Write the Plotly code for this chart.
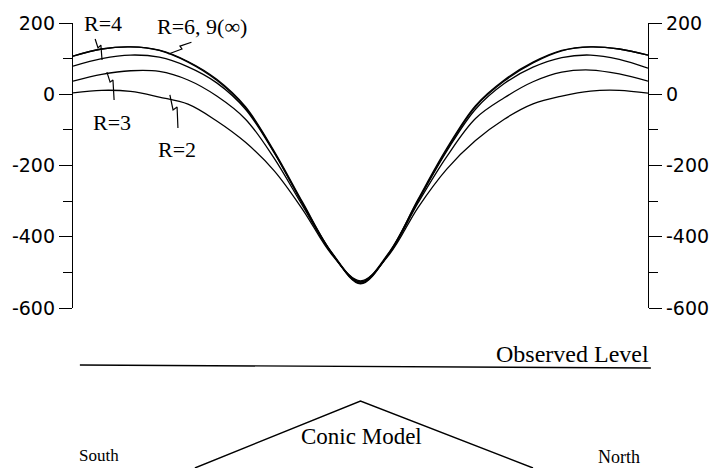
import plotly.graph_objects as go

# Distance along the profile (South -> North), arbitrary units
dist = [-100, -90, -80, -70, -60, -50, -40, -30, -20, -10, 0,
        10, 20, 30, 40, 50, 60, 70, 80, 90, 100]

# Computed level for each ratio R
r9 = [107, 127, 133, 124, 92, 42, -35, -160, -305, -445, -532,
      -445, -295, -152, -32, 40, 90, 123, 133, 127, 110]
r6 = [107, 127, 133, 123, 90, 39, -38, -163, -308, -444, -527,
      -443, -298, -156, -35, 37, 88, 122, 133, 127, 110]
r4 = [79, 100, 110, 104, 77, 32, -42, -165, -310, -446, -530,
      -446, -300, -160, -42, 30, 76, 103, 110, 98, 73]
r3 = [37, 56, 66, 64, 40, -5, -70, -180, -315, -447, -527,
      -447, -305, -175, -68, -10, 35, 62, 68, 57, 37]
r2 = [4, 11, 8, -8, -28, -75, -135, -215, -325, -450, -524,
      -450, -318, -210, -130, -70, -27, -5, 9, 11, 3]

major_ticks = [-600, -400, -200, 0, 200]
major_text = ["-600", "-400", "-200", "0", "200"]
minor_ticks = [-500, -300, -100, 100]

# Curve labels: text, x, y
labels = [
    ("R=4", -89.7, 200),
    ("R=6, 9(\u221e)", -55.1, 191),
    ("R=3", -86.4, -78),
    ("R=2", -63.7, -156),
]

# Zig-zag leaders from labels to curves
leaders = [
    ([-92.3, -91.3, -90.3, -89.9], [155, 130, 138, 96]),
    ([-88.2, -87.1, -86.1, -85.7], [62, 34, 40, -16]),
    ([-66.3, -65.2, -63.8, -63.5], [-2, -44, -36, -95]),
    ([-66.8, -62.1, -62.8, -58.8], [113, 127, 135, 146]),
]

# Schematic below: observed level and conic model profile
obs_x = [-97.6, 101.0]
obs_z = [103, 100]
cone_x = [-57.6, 0, 60.0]
cone_z = [0, 67, 0]

W, H = 713, 468
x_dom = [73 / W, 648 / W]
y_dom = [1 - 308 / H, 1 - 23 / H]
# lower panel spans the full width with the same horizontal scale
unit = (648 - 73) / 200.0
x2_range = [(0 - 360.5) / unit, (W - 360.5) / unit]

fig = go.Figure()
line_style = dict(color="black", width=1.3, shape="spline", smoothing=1.0)
for vals in (r2, r3, r4, r6):
    fig.add_trace(go.Scatter(x=dist, y=vals, mode="lines", line=line_style,
                             hoverinfo="skip"))
fig.add_trace(go.Scatter(x=dist, y=r9, mode="lines", line=line_style,
                         yaxis="y3", hoverinfo="skip"))

for lx, ly in leaders:
    fig.add_trace(go.Scatter(x=lx, y=ly, mode="lines",
                             line=dict(color="black", width=1.2),
                             hoverinfo="skip"))

fig.add_trace(go.Scatter(x=obs_x, y=obs_z, mode="lines", xaxis="x2", yaxis="y2",
                         line=dict(color="black", width=1.4), hoverinfo="skip"))
fig.add_trace(go.Scatter(x=cone_x, y=cone_z, mode="lines", xaxis="x2", yaxis="y2",
                         line=dict(color="black", width=1.4), hoverinfo="skip"))

serif = "Liberation Serif"
annotations = []
for txt, ax_, ay_ in labels:
    annotations.append(dict(text=txt, x=ax_, y=ay_, xref="x", yref="y",
                            showarrow=False,
                            font=dict(family=serif, size=22, color="black")))
annotations += [
    dict(text="Observed Level", x=101.0, y=114, xref="x2", yref="y2",
         xanchor="right", showarrow=False,
         font=dict(family=serif, size=24, color="black")),
    dict(text="Conic Model", x=0.5, y=32, xref="x2", yref="y2",
         showarrow=False, font=dict(family=serif, size=23, color="black")),
    dict(text="South", x=-91, y=13, xref="x2", yref="y2",
         showarrow=False, font=dict(family=serif, size=17, color="black")),
    dict(text="North", x=90, y=11, xref="x2", yref="y2",
         showarrow=False, font=dict(family=serif, size=18, color="black")),
]

yaxis_common = dict(
    range=[-600, 200], domain=y_dom, anchor="x",
    tickmode="array", tickvals=major_ticks, ticktext=major_text,
    ticks="outside", ticklen=13, tickwidth=1.3, tickcolor="black",
    showline=True, linecolor="black", linewidth=1.3,
    showgrid=False, zeroline=False, automargin=False,
    tickfont=dict(family="DejaVu Sans", size=19, color="black"),
    minor=dict(tickmode="array", tickvals=minor_ticks, ticks="outside",
               ticklen=9, tickwidth=1.3, tickcolor="black", showgrid=False),
)

fig.update_layout(
    width=W, height=H,
    margin=dict(l=0, r=0, t=0, b=0),
    paper_bgcolor="white", plot_bgcolor="white",
    showlegend=False,
    xaxis=dict(domain=x_dom, range=[-100, 100], visible=False, anchor="y"),
    yaxis=dict(**yaxis_common, side="left"),
    yaxis3=dict(**yaxis_common, side="right", overlaying="y"),
    xaxis2=dict(domain=[0, 1], range=x2_range, visible=False, anchor="y2"),
    yaxis2=dict(domain=[0, 0.3], range=[0, 0.3 * H], visible=False, anchor="x2"),
    annotations=annotations,
)

fig.write_html("out.html")
